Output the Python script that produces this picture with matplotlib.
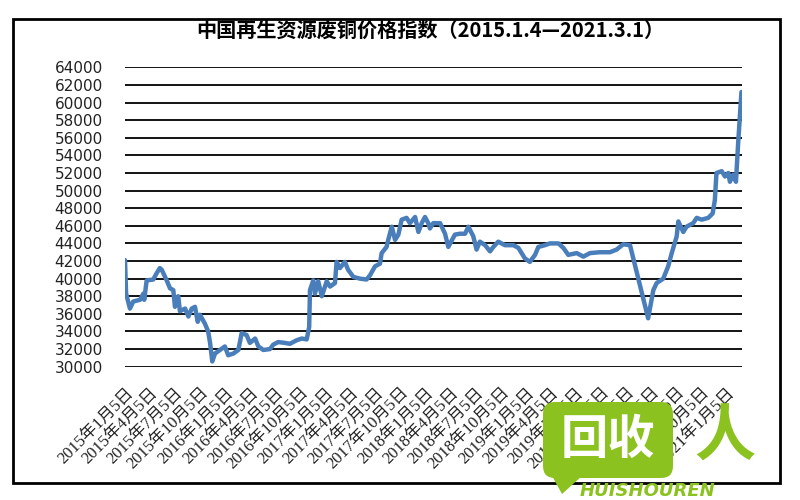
import matplotlib
matplotlib.use("Agg")
import matplotlib.pyplot as plt
from matplotlib.patches import Rectangle, FancyBboxPatch, Polygon
import pandas as pd

# price index (date, yuan/ton)
dates = [
    "2015-01-04", "2015-01-08", "2015-01-22", "2015-02-03", "2015-02-28",
    "2015-03-12", "2015-03-15", "2015-03-24", "2015-04-17", "2015-04-29",
    "2015-05-11", "2015-05-18", "2015-06-05", "2015-06-17", "2015-06-29",
    "2015-07-05", "2015-07-17", "2015-07-23", "2015-08-11", "2015-08-23",
    "2015-09-04", "2015-09-16", "2015-09-26", "2015-10-04", "2015-10-22",
    "2015-11-03", "2015-11-10", "2015-11-18", "2015-11-28", "2015-12-16",
    "2016-01-03", "2016-01-15", "2016-02-03", "2016-02-21", "2016-03-04",
    "2016-03-22", "2016-04-03", "2016-04-22", "2016-05-04", "2016-05-22",
    "2016-06-15", "2016-06-27", "2016-07-15", "2016-08-09", "2016-08-27",
    "2016-09-20", "2016-10-09", "2016-10-27", "2016-11-05", "2016-11-08",
    "2016-11-20", "2016-11-26", "2016-12-08", "2016-12-21", "2017-01-08",
    "2017-01-20", "2017-02-07", "2017-02-13", "2017-02-25", "2017-03-15",
    "2017-03-27", "2017-04-15", "2017-05-09", "2017-06-02", "2017-06-15",
    "2017-07-03", "2017-07-21", "2017-07-27", "2017-08-14", "2017-08-20",
    "2017-09-02", "2017-09-14", "2017-09-26", "2017-10-08", "2017-10-26",
    "2017-11-07", "2017-11-26", "2017-12-08", "2017-12-20", "2018-01-01",
    "2018-01-13", "2018-01-19", "2018-01-31", "2018-02-25", "2018-03-09",
    "2018-03-15", "2018-03-27", "2018-04-20", "2018-05-08", "2018-05-27",
    "2018-06-08", "2018-06-26", "2018-07-08", "2018-07-20", "2018-08-08",
    "2018-08-26", "2018-09-07", "2018-09-25", "2018-10-19", "2018-11-19",
    "2018-12-07", "2018-12-31", "2019-01-18", "2019-02-06", "2019-02-18",
    "2019-03-14", "2019-04-01", "2019-05-02", "2019-05-20", "2019-06-07",
    "2019-07-08", "2019-08-01", "2019-08-25", "2019-09-30", "2019-11-06",
    "2019-11-30", "2019-12-24", "2020-01-18", "2020-03-24", "2020-04-12",
    "2020-04-24", "2020-05-18", "2020-06-05", "2020-06-18", "2020-07-06",
    "2020-07-12", "2020-07-30", "2020-08-11", "2020-09-04", "2020-09-17",
    "2020-10-05", "2020-10-29", "2020-11-14", "2020-11-22", "2020-11-28",
    "2020-12-17", "2020-12-29", "2021-01-10", "2021-01-16", "2021-01-28",
    "2021-02-07", "2021-02-15", "2021-02-27",
]
prices = [
    42100, 38300, 36600, 37400, 37600,
    38300, 37600, 39800, 39900, 40600,
    41200, 41000, 39800, 38900, 38700,
    36800, 38000, 36300, 36600, 35700,
    36600, 36800, 35100, 35900, 34900,
    34000, 32700, 30600, 31500, 31900,
    32300, 31300, 31500, 31900, 33800,
    33600, 32700, 33200, 32300, 31900,
    32000, 32500, 32800, 32700, 32600,
    33000, 33200, 33100, 34500, 38700,
    39800, 38300, 39700, 38000, 39700,
    39100, 39500, 41900, 41200, 41900,
    41000, 40200, 40000, 39900, 40400,
    41400, 41700, 42900, 43600, 44400,
    45900, 44400, 45000, 46700, 46900,
    46300, 47000, 45300, 46300, 47000,
    46300, 45700, 46300, 46300, 45500,
    45100, 43600, 45000, 45100, 45100,
    45900, 44800, 43300, 44200, 43800,
    43100, 43600, 44200, 43800, 43800,
    43500, 42300, 41900, 42700, 43600,
    43800, 44000, 44000, 43500, 42700,
    42900, 42500, 42900, 43000, 43000,
    43300, 43900, 43800, 35500, 38700,
    39500, 40000, 41400, 42900, 44800,
    46500, 45300, 45900, 46300, 46900,
    46700, 46900, 47400, 48900, 52000,
    52200, 51600, 52000, 51000, 51800,
    51000, 55400, 61200,
]

tick_dates = [
    "2015-01-05", "2015-04-05", "2015-07-05", "2015-10-05",
    "2016-01-05", "2016-04-05", "2016-07-05", "2016-10-05",
    "2017-01-05", "2017-04-05", "2017-07-05", "2017-10-05",
    "2018-01-05", "2018-04-05", "2018-07-05", "2018-10-05",
    "2019-01-05", "2019-04-05", "2019-07-05", "2019-10-05",
    "2020-01-05", "2020-04-05", "2020-07-05", "2020-10-05",
    "2021-01-05",
]
y_ticks = [30000, 32000, 34000, 36000, 38000, 40000, 42000, 44000, 46000,
           48000, 50000, 52000, 54000, 56000, 58000, 60000, 62000, 64000]

title = "中国再生资源废铜价格指数（2015.1.4—2021.3.1）"

fig = plt.figure(figsize=(8, 5), dpi=100)
ax = fig.add_axes([0.15625, 0.2666, 0.77125, 0.5988])

ax.plot(pd.to_datetime(dates), prices, color="#4A7EBB", linewidth=3.2,
        solid_joinstyle="round", solid_capstyle="round", zorder=3)

ax.set_xlim(pd.Timestamp("2015-01-04"), pd.Timestamp("2021-03-01"))
ax.set_ylim(30000, 64000)
ax.set_yticks(y_ticks)
ax.yaxis.grid(True, color="black", linewidth=1.3)
ax.set_axisbelow(True)
for s in ax.spines.values():
    s.set_visible(False)
ax.tick_params(length=0)
ax.tick_params(axis="y", pad=16, labelsize=11, labelcolor="#222222")
ax.tick_params(axis="x", pad=13)

ticks = pd.to_datetime(tick_dates)
ax.set_xticks(ticks)
ax.set_xticklabels([f"{t.year}年{t.month}月{t.day}日" for t in ticks],
                   rotation=45, ha="right", rotation_mode="anchor",
                   family=["Liberation Serif", "Noto Sans CJK SC"],
                   fontsize=12, color="#222222")

fig.text(0.5375, 0.94, title, ha="center", va="center", fontsize=14.5,
         weight="bold", family=["Noto Sans CJK SC", "DejaVu Sans"])

# outer frame
fig.add_artist(Rectangle((0.13, 0.17), 7.67, 4.64, transform=fig.dpi_scale_trans,
                         fill=False, edgecolor="black", linewidth=2))

# watermark logo
green = "#8CC21F"
fig.add_artist(FancyBboxPatch((5.50, 0.29), 1.16, 0.62, transform=fig.dpi_scale_trans,
                              boxstyle="round,pad=0.07,rounding_size=0.12",
                              facecolor=green, edgecolor="none", zorder=10))
fig.add_artist(Polygon([(5.46, 0.35), (5.62, 0.06), (5.82, 0.24)], closed=True,
                       transform=fig.dpi_scale_trans, facecolor=green,
                       edgecolor="none", zorder=10))
fig.text(6.08, 0.60, "回收", transform=fig.dpi_scale_trans, ha="center", va="center",
         fontsize=34, weight="black", color="white",
         family=["Noto Sans CJK SC"], zorder=11)
fig.text(7.25, 0.62, "人", transform=fig.dpi_scale_trans, ha="center", va="center",
         fontsize=44, weight="bold", color=green, style="italic",
         family=["Noto Sans CJK SC"], zorder=11)
fig.text(6.47, 0.09, "HUISHOUREN", transform=fig.dpi_scale_trans, ha="center",
         va="center", fontsize=13, weight="bold", style="oblique", color=green,
         family=["DejaVu Sans"], zorder=11)

fig.savefig("out.png", dpi=100)
